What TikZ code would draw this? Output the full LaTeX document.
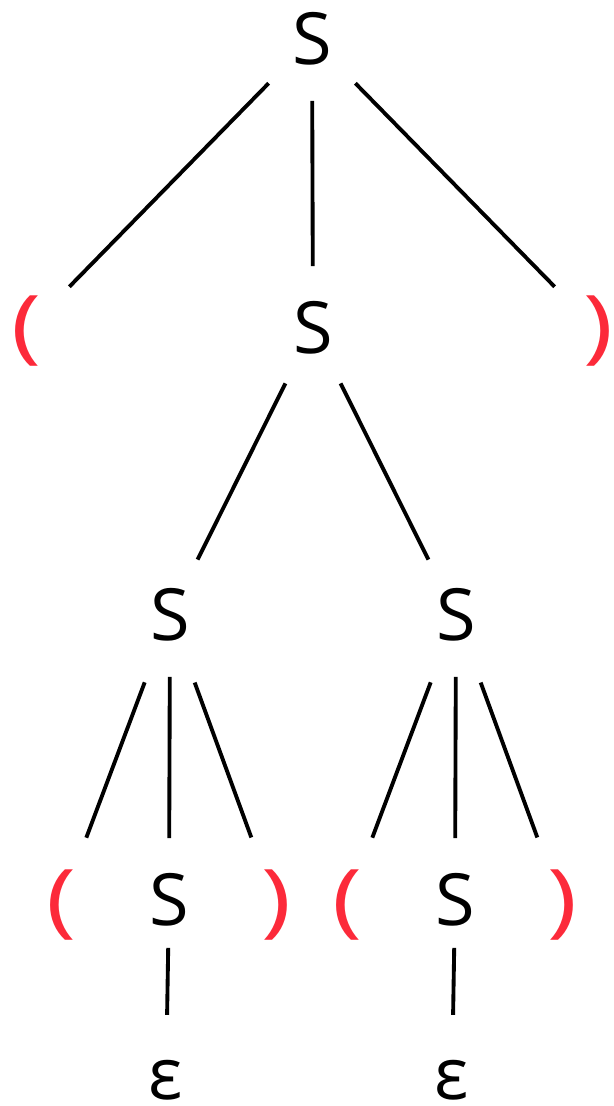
\documentclass[tikz,border=0pt]{standalone}
\usepackage{fontspec}
\setmainfont{Open Sans}
\definecolor{parenred}{RGB}{252,42,58}
\tikzstyle{sym}=[circle,minimum size=2.4cm,inner sep=0pt,font=\fontsize{41}{41}\selectfont]
\tikzstyle{paren}=[sym,text=parenred,font=\fontsize{46}{46}\selectfont]
\tikzstyle{leaf}=[sym,minimum size=0pt]
\newcommand{\wide}[1]{\scalebox{1.25}[1]{#1}}

\begin{document}
\begin{tikzpicture}[x=0.02cm,y=-0.02cm,line width=2.2pt]
    \useasboundingbox (0,0) rectangle (614,1106);
    \node[sym]   (s0) at (312,39)  {S};
    \node[paren] (l0) at (26,331)  {\wide{(}};
    \node[sym]   (s1) at (313,328) {S};
    \node[paren] (r0) at (598,331) {\wide{)}};
    \node[sym]   (s2) at (170,615) {S};
    \node[sym]   (s3) at (456,615) {S};
    \node[paren] (l1) at (61,905)  {\wide{(}};
    \node[sym]   (s4) at (169,900) {S};
    \node[paren] (r1) at (276,905) {\wide{)}};
    \node[paren] (l2) at (347,905) {\wide{(}};
    \node[sym]   (s5) at (455,900) {S};
    \node[paren] (r2) at (562,905) {\wide{)}};
    \node[leaf]  (e0) at (166,1080) {ε};
    \node[leaf]  (e1) at (452,1080) {ε};

    \foreach \from/\to in {s0/l0,s0/s1,s0/r0,s1/s2,s1/s3,s2/s4,s3/s5}
    \draw (\from) -- (\to);
    \foreach \from/\to in {s2/l1,s2/r1,s3/l2,s3/r2}
    \draw[shorten <=0.2cm,shorten >=0.2cm] (\from) -- (\to);
    \foreach \from/\to in {s4/e0,s5/e1}
    \draw[shorten <=-0.28cm,shorten >=0.74cm] (\from) -- (\to);
\end{tikzpicture}
\end{document}
